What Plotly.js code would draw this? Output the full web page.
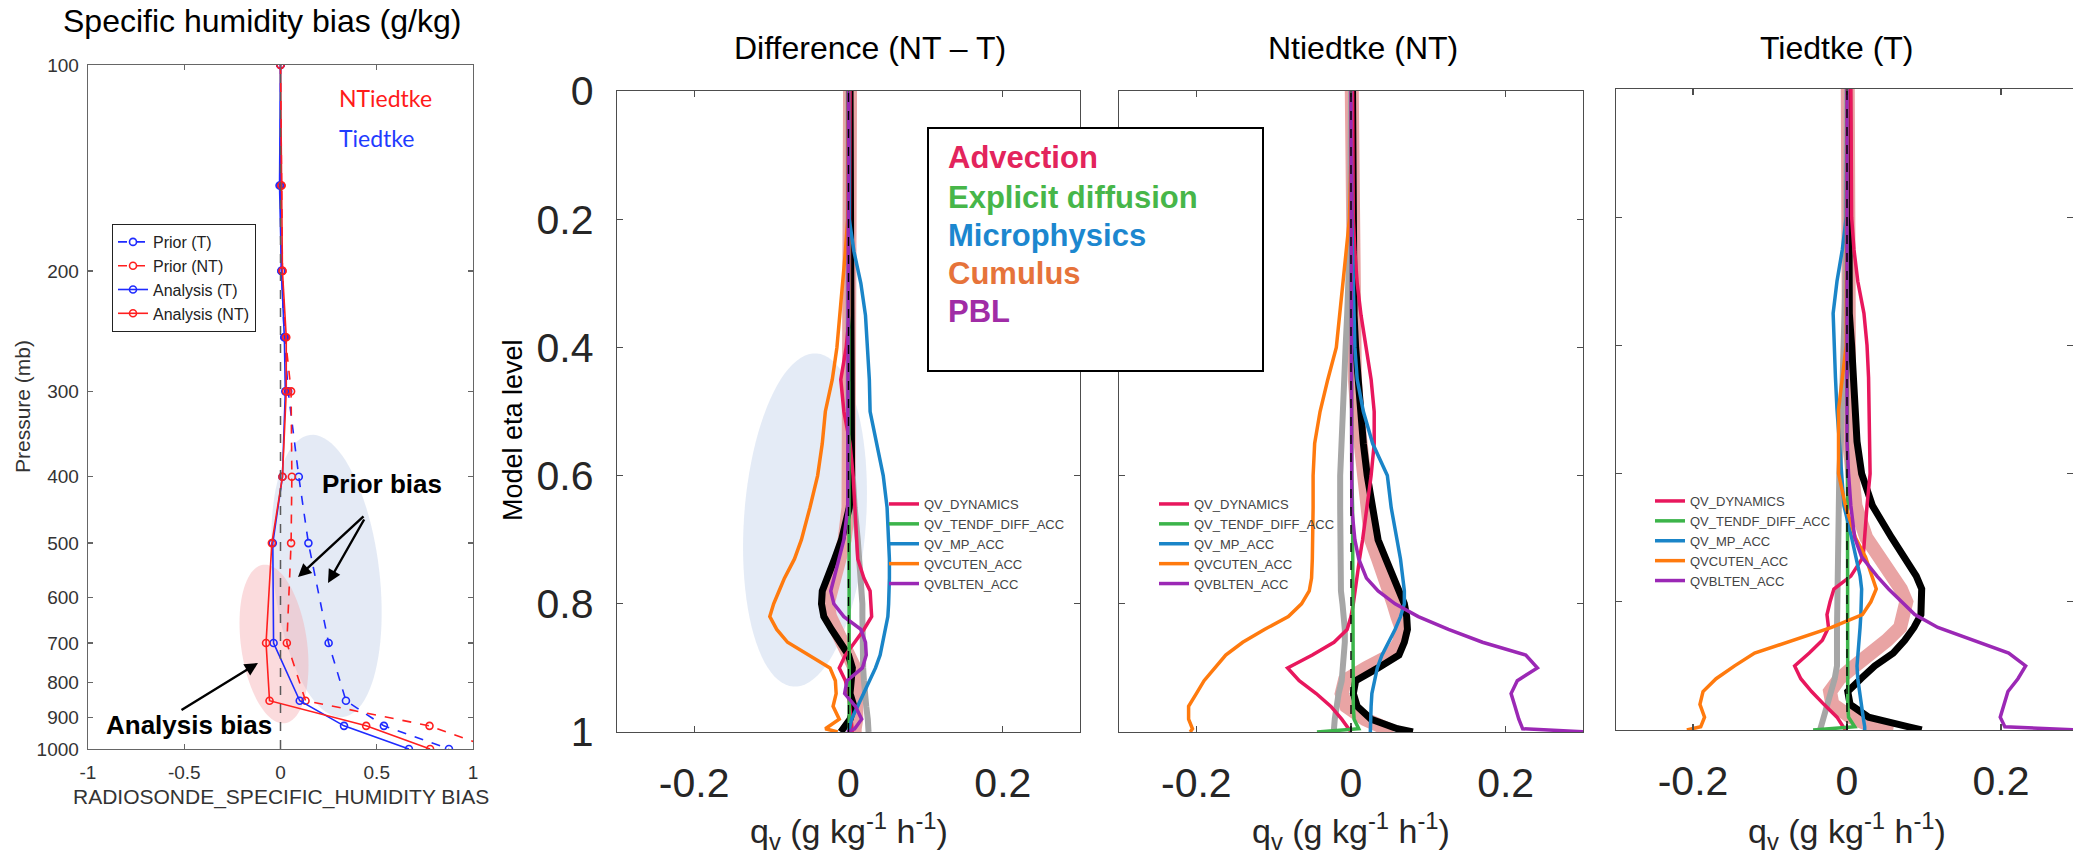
<!DOCTYPE html>
<html>
<head>
<meta charset="utf-8">
<script src="https://cdn.plot.ly/plotly-3.0.1.min.js"></script>
<style>html,body{margin:0;padding:0;background:#fff;}#chart{width:2073px;height:856px;}</style>
</head>
<body>
<div id="chart"></div>
<script>
// ---------------- Left panel: radiosonde specific humidity bias ----------------
const PRESSURE = [100, 150, 200, 250, 300, 400, 500, 700, 850, 925, 1000];
const PRIOR_T   = [0, 0.0, 0.005, 0.02, 0.04, 0.095, 0.145, 0.25, 0.34, 0.537, 0.875];
const PRIOR_NT  = [0, 0.005, 0.01, 0.025, 0.055, 0.059, 0.055, 0.033, 0.13, 0.774, 1.11];
const ANAL_T    = [0, -0.005, 0.005, 0.02, 0.025, 0.01, -0.04, -0.036, 0.1, 0.33, 0.667];
const ANAL_NT   = [0, 0.005, 0.01, 0.03, 0.03, 0.01, -0.045, -0.075, -0.057, 0.445, 0.777];
const LEFT_NAMES = ['Prior (T)', 'Prior (NT)', 'Analysis (T)', 'Analysis (NT)'];
const P_TICKS = [100, 200, 300, 400, 500, 600, 700, 800, 900, 1000];
const BIAS_TICKS = [-1, -0.5, 0, 0.5, 1];
const BIAS_TICKTEXT = ['-1', '-0.5', '0', '0.5', '1'];

// ---------------- Right panels: moisture tendency profiles ----------------
const ETA = [0, 0.1, 0.2, 0.25, 0.3, 0.35, 0.4, 0.45, 0.5, 0.55, 0.6, 0.65, 0.7, 0.73, 0.76, 0.78, 0.8, 0.82, 0.84, 0.86, 0.88, 0.9, 0.92, 0.94, 0.96, 0.98, 0.995, 1.0];
const SERIES_NAMES = ['QV_DYNAMICS', 'QV_TENDF_DIFF_ACC', 'QV_MP_ACC', 'QVCUTEN_ACC', 'QVBLTEN_ACC'];
const CATEGORIES = ['Advection', 'Explicit diffusion', 'Microphysics', 'Cumulus', 'PBL'];
const PANEL_TITLES = ['Difference (NT \u2013 T)', 'Ntiedtke (NT)', 'Tiedtke (T)'];
const QV_TICKS = [-0.2, 0, 0.2];
const QV_TICKTEXT = ['-0.2', '0', '0.2'];
const ETA_TICKS = [0, 0.2, 0.4, 0.6, 0.8, 1];
const ETA_TICKTEXT = ['0', '0.2', '0.4', '0.6', '0.8', '1'];

// Difference (NT - T)
const D_ADV = [0.002,0.002,0.002,0.002,0.002,0.001,-0.003,-0.01,-0.006,0.002,0.006,0.008,0.01,0.012,0.02,0.028,0.029,0.03,0.02,0.008,-0.004,-0.012,-0.004,0.0,0.002,0.003,0.005,0.005];
const D_DIF = [0,0,0,0,0,0,0,0,0,0.001,0.001,0.001,0.001,0.001,0.001,0.001,0.001,0.001,0.001,0.001,0.001,0.001,0.001,0.001,0.001,0.001,0.001,0.001];
const D_MP  = [0,0,0.001,0.007,0.016,0.022,0.025,0.027,0.028,0.037,0.045,0.05,0.052,0.053,0.053,0.053,0.052,0.051,0.048,0.045,0.041,0.035,0.027,0.019,0.011,0.004,0.001,0];
const D_CU  = [0,0,-0.001,-0.004,-0.008,-0.011,-0.015,-0.021,-0.03,-0.034,-0.04,-0.05,-0.061,-0.07,-0.083,-0.09,-0.097,-0.102,-0.093,-0.079,-0.051,-0.024,-0.017,-0.016,-0.02,-0.012,-0.03,-0.014];
const D_PBL = [0,0,0,0,0,0,0,0,0,0,0,-0.001,-0.006,-0.012,-0.019,-0.023,-0.019,-0.006,0.016,0.022,0.023,0.018,-0.002,-0.005,0.009,0.017,0.008,-0.002];
const D_TOT = [0.002,0.002,0.002,0.002,0.002,0.002,0.002,0.003,0.003,0.004,0.004,0.001,-0.009,-0.018,-0.027,-0.034,-0.035,-0.032,-0.022,-0.01,0.0,0.005,0.004,0.002,0.007,0.002,-0.007,-0.01];
const D_OBS = [0.002,0.002,0.002,0.002,0.002,0.002,0.002,0.002,0.002,0.002,0.002,0.0,-0.005,-0.013,-0.021,-0.026,-0.027,-0.024,-0.016,-0.005,0.004,0.008,0.01,0.011,0.011,0.01,0.008,0.008];
const D_RES = [0,0,0,0,0,0,0,0,0,0.003,0.005,0.008,0.012,0.014,0.016,0.017,0.018,0.018,0.018,0.018,0.018,0.019,0.02,0.021,0.023,0.025,0.026,0.026];

// Ntiedtke (NT)
const NT_ADV = [0.002,0.002,0.003,0.005,0.008,0.013,0.02,0.026,0.03,0.03,0.026,0.021,0.015,0.011,0.008,0.005,0.003,0.0,-0.005,-0.022,-0.05,-0.082,-0.067,-0.045,-0.026,-0.012,-0.003,0.0];
const NT_DIF = [0,0,0,0,0,0,0,0,0,0.001,0.001,0.002,0.002,0.002,0.002,0.002,0.002,0.002,0.002,0.002,0.002,0.002,0.003,0.003,0.003,0.004,0.01,-0.044];
const NT_MP  = [0,0,0.001,0.002,0.003,0.004,0.005,0.008,0.016,0.028,0.047,0.052,0.06,0.064,0.067,0.069,0.069,0.064,0.057,0.049,0.04,0.034,0.03,0.027,0.026,0.025,0.025,0.025];
const NT_CU  = [0,0,-0.002,-0.006,-0.01,-0.014,-0.019,-0.03,-0.04,-0.047,-0.049,-0.049,-0.049,-0.05,-0.051,-0.054,-0.064,-0.081,-0.112,-0.14,-0.162,-0.176,-0.19,-0.2,-0.21,-0.21,-0.205,-0.208];
const NT_PBL = [0,0,0,0,0,0,0,0,0,0,0,0.001,0.005,0.01,0.02,0.035,0.057,0.087,0.126,0.17,0.226,0.241,0.215,0.207,0.212,0.217,0.222,0.31];
const NT_TOT = [0.002,0.002,0.002,0.003,0.003,0.004,0.006,0.009,0.012,0.016,0.021,0.027,0.035,0.045,0.056,0.064,0.069,0.072,0.073,0.069,0.062,0.035,0.006,0.003,0.008,0.026,0.06,0.08];
const NT_OBS = [0.001,0.001,0.001,0.002,0.002,0.003,0.003,0.005,0.008,0.012,0.016,0.02,0.026,0.035,0.045,0.05,0.055,0.06,0.066,0.062,0.052,0.02,-0.008,-0.012,-0.006,0.018,0.045,0.055];
const NT_RES = [0,0,-0.001,-0.002,-0.003,-0.005,-0.007,-0.009,-0.011,-0.013,-0.014,-0.014,-0.014,-0.014,-0.013,-0.013,-0.011,-0.009,-0.008,-0.008,-0.009,-0.01,-0.012,-0.016,-0.019,-0.021,-0.022,-0.022];

// Tiedtke (T)
const T_ADV = [0.005,0.005,0.006,0.009,0.014,0.022,0.026,0.028,0.029,0.03,0.03,0.026,0.023,0.021,0.005,-0.017,-0.022,-0.026,-0.024,-0.032,-0.049,-0.068,-0.06,-0.046,-0.03,-0.013,-0.005,-0.002];
const T_DIF = [0,0,0,0,0,0,0,0,0,0.001,0.001,0.001,0.001,0.001,0.001,0.001,0.001,0.001,0.001,0.001,0.001,0.001,0.001,0.001,0.001,0.002,0.01,-0.044];
const T_MP  = [0,0,-0.001,-0.006,-0.013,-0.018,-0.017,-0.015,-0.013,-0.01,-0.007,-0.004,0.006,0.012,0.017,0.019,0.019,0.018,0.017,0.016,0.014,0.013,0.014,0.016,0.018,0.021,0.023,0.023];
const T_CU  = [0,0,0,0,0,0,-0.001,-0.006,-0.011,-0.011,-0.011,-0.002,0.011,0.024,0.033,0.038,0.031,0.02,-0.02,-0.07,-0.12,-0.146,-0.17,-0.187,-0.191,-0.185,-0.19,-0.208];
const T_PBL = [0,0,0,0,0,0,0,0,0,0,0.002,0.005,0.01,0.019,0.039,0.054,0.071,0.088,0.118,0.164,0.21,0.232,0.222,0.209,0.204,0.199,0.205,0.3];
const T_TOT = [0.002,0.002,0.002,0.002,0.002,0.003,0.006,0.008,0.009,0.013,0.019,0.033,0.058,0.075,0.09,0.097,0.097,0.096,0.087,0.075,0.06,0.036,0.018,0.001,0.004,0.028,0.08,0.097];
const T_OBS = [0.001,0.001,0.001,0.001,0.001,0.001,0.001,0.001,0.002,0.003,0.007,0.011,0.025,0.043,0.06,0.07,0.077,0.073,0.069,0.052,0.034,0.01,-0.01,-0.022,-0.019,0.005,0.035,0.06];
const T_RES = [0,0,0,-0.001,-0.002,-0.003,-0.004,-0.005,-0.006,-0.008,-0.01,-0.011,-0.012,-0.012,-0.012,-0.013,-0.013,-0.013,-0.013,-0.013,-0.013,-0.013,-0.016,-0.021,-0.026,-0.03,-0.034,-0.035];

// ---------------- helpers ----------------
const W = 2073, H = 856;
const PX = p => p / W;
const PY = p => 1 - p / H;
const FONT = 'Liberation Sans, Arial, Helvetica, sans-serif';
const LINE_COLORS = ['#e8175d', '#3cb44a', '#1a85c8', '#ff7a0e', '#9b28b5'];
const CAT_COLORS = ['#e3245c', '#47b649', '#1c87cf', '#e6733a', '#a02ca6'];

function ellipsePath(cx, cy, rx, ry, deg) {
  const th = deg * Math.PI / 180;
  let d = '';
  for (let i = 0; i <= 96; i++) {
    const t = i / 96 * 2 * Math.PI;
    const x = rx * Math.cos(t), y = ry * Math.sin(t);
    const Xp = cx + x * Math.cos(th) - y * Math.sin(th);
    const Yp = cy + x * Math.sin(th) + y * Math.cos(th);
    d += (i ? 'L' : 'M') + PX(Xp).toFixed(5) + ',' + PY(Yp).toFixed(5);
  }
  return d + 'Z';
}

function axisStyle(extra) {
  return Object.assign({
    showline: true, mirror: 'ticks', linecolor: '#4d4d4d', linewidth: 1.3,
    ticks: 'inside', tickcolor: '#4d4d4d', tickwidth: 1.3, ticklen: 6,
    showgrid: false, zeroline: false, fixedrange: true
  }, extra);
}

// ---------------- traces ----------------
const traces = [];
const leftSeries = [PRIOR_T, PRIOR_NT, ANAL_T, ANAL_NT];
const leftColors = ['#1f2bff', '#ff1f1f', '#1f2bff', '#ff1f1f'];
const leftDash = ['dash', 'dash', 'solid', 'solid'];
leftSeries.forEach((s, i) => {
  traces.push({
    x: s, y: PRESSURE, xaxis: 'x', yaxis: 'y', mode: 'lines+markers', name: LEFT_NAMES[i],
    line: {color: leftColors[i], width: 1.6, dash: leftDash[i]},
    marker: {symbol: 'circle-open', size: 7, color: leftColors[i], line: {width: 1.6, color: leftColors[i]}},
    legend: 'legend'
  });
});

const panels = [
  {xa: 'x2', ya: 'y2', leg: 'legend2', obs: D_OBS, res: D_RES, tot: D_TOT, comps: [D_ADV, D_DIF, D_MP, D_CU, D_PBL]},
  {xa: 'x3', ya: 'y3', leg: 'legend3', obs: NT_OBS, res: NT_RES, tot: NT_TOT, comps: [NT_ADV, NT_DIF, NT_MP, NT_CU, NT_PBL]},
  {xa: 'x4', ya: 'y4', leg: 'legend4', obs: T_OBS, res: T_RES, tot: T_TOT, comps: [T_ADV, T_DIF, T_MP, T_CU, T_PBL]}
];
panels.forEach(p => {
  traces.push({x: p.obs, y: ETA, xaxis: p.xa, yaxis: p.ya, mode: 'lines', showlegend: false, line: {color: '#e9a4a4', width: 14}});
  traces.push({x: p.res, y: ETA, xaxis: p.xa, yaxis: p.ya, mode: 'lines', showlegend: false, line: {color: '#a6a6a6', width: 6}});
  traces.push({x: p.tot, y: ETA, xaxis: p.xa, yaxis: p.ya, mode: 'lines', showlegend: false, line: {color: '#000000', width: 7}});
  p.comps.forEach((c, i) => {
    traces.push({x: c, y: ETA, xaxis: p.xa, yaxis: p.ya, mode: 'lines', name: SERIES_NAMES[i],
      legend: p.leg, line: {color: LINE_COLORS[i], width: 3.5}});
  });
});

// ---------------- layout ----------------
const shapes = [
  // highlight ellipses
  {type: 'path', xref: 'paper', yref: 'paper', layer: 'below', path: ellipsePath(326.5, 576, 53, 142, -6.7), fillcolor: 'rgba(190,206,232,0.42)', line: {width: 0}},
  {type: 'path', xref: 'paper', yref: 'paper', layer: 'below', path: ellipsePath(274, 644, 33, 80, -7.9), fillcolor: 'rgba(246,170,175,0.42)', line: {width: 0}},
  {type: 'path', xref: 'paper', yref: 'paper', layer: 'below', path: ellipsePath(805, 520, 61, 167, 4), fillcolor: 'rgba(196,210,234,0.45)', line: {width: 0}},
  // zero reference lines
  {type: 'line', xref: 'x', yref: 'y domain', x0: 0, x1: 0, y0: 0, y1: 1, line: {color: '#5a5a5a', width: 1.5, dash: 'dash'}},
  {type: 'line', xref: 'x2', yref: 'y2 domain', x0: 0, x1: 0, y0: 0, y1: 1, line: {color: '#000', width: 1.4, dash: 'dash'}},
  {type: 'line', xref: 'x3', yref: 'y3 domain', x0: 0, x1: 0, y0: 0, y1: 1, line: {color: '#000', width: 1.4, dash: 'dash'}},
  {type: 'line', xref: 'x4', yref: 'y4 domain', x0: 0, x1: 0, y0: 0, y1: 1, line: {color: '#000', width: 1.4, dash: 'dash'}},
  // category legend box
  {type: 'rect', xref: 'paper', yref: 'paper', x0: PX(928), x1: PX(1263), y0: PY(371), y1: PY(128), line: {color: '#000', width: 2}, fillcolor: '#ffffff', layer: 'above'}
];

const annotations = [
  {text: 'Specific humidity bias (g/kg)', x: PX(262), y: PY(21), font: {size: 32, color: '#000'}},
  {text: 'Pressure (mb)', x: PX(22), y: PY(407), textangle: -90, font: {size: 21, color: '#333'}},
  {text: 'RADIOSONDE_SPECIFIC_HUMIDITY BIAS', x: PX(281), y: PY(797), font: {size: 21, color: '#333'}},
  {text: 'NTiedtke', x: PX(337), y: PY(98), xanchor: 'left', font: {size: 23, color: '#ff1a1a', family: 'Lato, Open Sans, sans-serif'}},
  {text: 'Tiedtke', x: PX(337), y: PY(138), xanchor: 'left', font: {size: 23, color: '#1f3cff', family: 'Lato, Open Sans, sans-serif'}},
  {text: 'Prior bias', x: PX(382), y: PY(484), font: {size: 26, color: '#000', weight: 'bold'}},
  {text: 'Analysis bias', x: PX(189), y: PY(725), font: {size: 26, color: '#000', weight: 'bold'}},
  {text: '', x: PX(298), y: PY(577), ax: 67, ay: -62, showarrow: true, arrowhead: 2, arrowsize: 1.1, arrowwidth: 2.4, arrowcolor: '#000'},
  {text: '', x: PX(328), y: PY(583), ax: 37, ay: -65, showarrow: true, arrowhead: 2, arrowsize: 1.1, arrowwidth: 2.4, arrowcolor: '#000'},
  {text: '', x: PX(258), y: PY(663), ax: -78, ay: 48, showarrow: true, arrowhead: 2, arrowsize: 1.1, arrowwidth: 2.4, arrowcolor: '#000'},
  {text: PANEL_TITLES[0], x: PX(870), y: PY(48), font: {size: 32, color: '#000'}},
  {text: PANEL_TITLES[1], x: PX(1363), y: PY(48), font: {size: 32, color: '#000'}},
  {text: PANEL_TITLES[2], x: PX(1837), y: PY(48), font: {size: 32, color: '#000'}},
  {text: 'Model eta level', x: PX(513), y: PY(430), textangle: -90, font: {size: 27, color: '#000'}}
];
['x2', 'x3', 'x4'].forEach(xa => {
  annotations.push({text: 'q<sub>v</sub> (g kg<sup>-1</sup> h<sup>-1</sup>)', xref: xa, x: 0, y: PY(831), font: {size: 34, color: '#262626'}});
});
const CAT_ROWS = [157, 197, 235, 273, 311];
CATEGORIES.forEach((c, i) => {
  annotations.push({text: c, x: PX(946), y: PY(CAT_ROWS[i]), xanchor: 'left', font: {size: 31, color: CAT_COLORS[i], weight: 'bold'}});
});
annotations.forEach(a => {
  if (!a.xref) a.xref = 'paper';
  a.yref = 'paper';
  if (a.showarrow === undefined) a.showarrow = false;
  if (!a.xanchor) a.xanchor = 'center';
  a.yanchor = 'middle';
  a.font = Object.assign({family: FONT}, a.font);
});

const smallLegend = (xpx, ypx) => ({
  x: PX(xpx), y: PY(ypx), xanchor: 'left', yanchor: 'top', bgcolor: 'rgba(0,0,0,0)', borderwidth: 0,
  font: {family: FONT, size: 13, color: '#444'}, tracegroupgap: 0, traceorder: 'normal'
});

const layout = {
  width: W, height: H, margin: {l: 0, r: 0, t: 0, b: 0, pad: 0},
  paper_bgcolor: '#ffffff', plot_bgcolor: 'rgba(0,0,0,0)',
  font: {family: FONT, color: '#262626'},
  hovermode: false,
  xaxis: axisStyle({domain: [PX(88), PX(473)], range: [-1, 1], anchor: 'y', tickvals: BIAS_TICKS, ticktext: BIAS_TICKTEXT,
    tickfont: {size: 19, color: '#333'}, ticklen: 5, linecolor: '#666', tickcolor: '#666', ticklabelstandoff: 6}),
  yaxis: axisStyle({domain: [PY(749), PY(65)], type: 'log', range: [3, 2], anchor: 'x', tickvals: P_TICKS, ticktext: P_TICKS.map(String),
    tickfont: {size: 19, color: '#333'}, ticklen: 5, linecolor: '#666', tickcolor: '#666', ticklabelstandoff: 4}),
  xaxis2: axisStyle({domain: [PX(617), PX(1080)], range: [-0.3, 0.3], anchor: 'y2', tickvals: QV_TICKS, ticktext: QV_TICKTEXT,
    tickfont: {size: 41, color: '#262626'}, ticklabelstandoff: 14}),
  yaxis2: axisStyle({domain: [PY(732), PY(91)], range: [1, 0], anchor: 'x2', tickvals: ETA_TICKS, ticktext: ETA_TICKTEXT,
    tickfont: {size: 41, color: '#262626'}, ticklabelstandoff: 14}),
  xaxis3: axisStyle({domain: [PX(1119), PX(1583)], range: [-0.3, 0.3], anchor: 'y3', tickvals: QV_TICKS, ticktext: QV_TICKTEXT,
    tickfont: {size: 41, color: '#262626'}, ticklabelstandoff: 14}),
  yaxis3: axisStyle({domain: [PY(732), PY(91)], range: [1, 0], anchor: 'x3', tickvals: ETA_TICKS, showticklabels: false}),
  xaxis4: axisStyle({domain: [PX(1616), 1], range: [-0.3, 0.2935], anchor: 'y4', tickvals: QV_TICKS, ticktext: QV_TICKTEXT,
    tickfont: {size: 41, color: '#262626'}, ticklabelstandoff: 14}),
  yaxis4: axisStyle({domain: [PY(730), PY(89)], range: [1, 0], anchor: 'x4', tickvals: ETA_TICKS, showticklabels: false}),
  legend: {x: PX(112), y: PY(224), xanchor: 'left', yanchor: 'top', bgcolor: '#ffffff', bordercolor: '#222', borderwidth: 1,
    font: {family: FONT, size: 16, color: '#222'}, tracegroupgap: 0, traceorder: 'normal'},
  legend2: smallLegend(884, 489),
  legend3: smallLegend(1154, 489),
  legend4: smallLegend(1650, 486),
  shapes: shapes,
  annotations: annotations
};

Plotly.newPlot('chart', traces, layout, {displayModeBar: false, staticPlot: true});
</script>
</body>
</html>
